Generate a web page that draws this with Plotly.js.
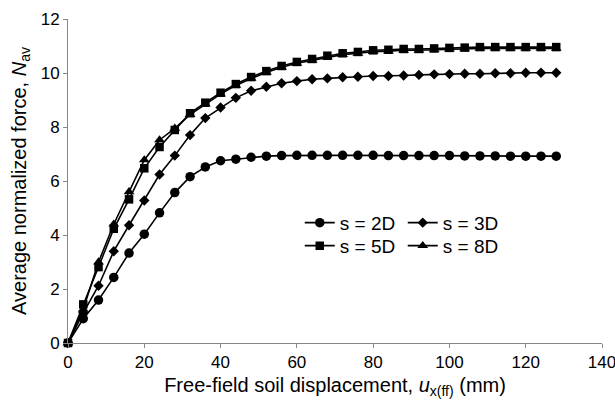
<!DOCTYPE html>
<html>
<head>
<meta charset="utf-8">
<script src="https://cdn.plot.ly/plotly-3.0.1.min.js"></script>
<style>html,body{margin:0;padding:0;background:#fff;}</style>
</head>
<body>
<div id="chart" style="width:615px;height:404px;"></div>
<script>
// Free-field soil displacement (mm)
const displacement = [0,4,8,12,16,20,24,28,32,36,40,44,48,52,56,60,64,68,72,76,80,84,88,92,96,100,104,108,112,116,120,124,128];
const s2D = [0,0.90,1.59,2.43,3.33,4.03,4.82,5.57,6.16,6.52,6.75,6.81,6.88,6.92,6.94,6.95,6.95,6.95,6.95,6.95,6.95,6.94,6.94,6.94,6.94,6.94,6.93,6.93,6.93,6.92,6.92,6.92,6.92];
const s3D = [0,1.12,2.12,3.40,4.36,5.28,6.24,6.94,7.70,8.33,8.72,9.08,9.34,9.49,9.62,9.70,9.77,9.80,9.84,9.86,9.89,9.89,9.91,9.93,9.95,9.96,9.97,9.97,9.99,9.99,10.01,10.01,10.01];
const s5D = [0,1.43,2.81,4.23,5.32,6.47,7.26,7.89,8.51,8.90,9.27,9.59,9.85,10.07,10.26,10.41,10.52,10.64,10.73,10.78,10.84,10.86,10.89,10.89,10.91,10.93,10.94,10.96,10.96,10.96,10.96,10.96,10.96];
const s8D = [0,1.25,3.00,4.40,5.60,6.78,7.52,7.95,8.46,8.85,9.22,9.54,9.80,10.02,10.21,10.36,10.47,10.59,10.68,10.73,10.79,10.81,10.84,10.84,10.86,10.88,10.89,10.91,10.91,10.91,10.91,10.91,10.91];
const seriesNames = ["s = 2D","s = 3D","s = 5D","s = 8D"];
const xTicks = [0,20,40,60,80,100,120,140];
const yTicks = [0,2,4,6,8,10,12];

const FONT = "Liberation Sans, Arial, sans-serif";
function tr(y, name, symbol, size, legend, rank) {
  return {
    x: displacement, y: y, name: name, type: "scatter", mode: "lines+markers",
    line: {color: "#000", width: 1.6},
    marker: {symbol: symbol, size: size, color: "#000"},
    cliponaxis: false, legend: legend, legendrank: rank
  };
}
// 8D drawn before 5D so the squares sit on top where the curves coincide
const data = [
  tr(s2D, seriesNames[0], "circle", 9.5, "legend", 1),
  tr(s3D, seriesNames[1], "diamond", 8, "legend", 2),
  tr(s8D, seriesNames[3], "triangle-up", 9.5, "legend2", 4),
  tr(s5D, seriesNames[2], "square", 8.5, "legend2", 3)
];
const legendBase = {
  orientation: "h", xanchor: "left", yanchor: "middle",
  font: {family: FONT, size: 19, color: "#000"},
  bgcolor: "rgba(0,0,0,0)", itemwidth: 30, traceorder: "normal",
  entrywidth: 58, entrywidthmode: "pixels", tracegroupgap: 0
};
const layout = {
  width: 615, height: 404,
  margin: {l: 68, r: 13, t: 19, b: 61},
  paper_bgcolor: "#fff", plot_bgcolor: "#fff",
  font: {family: FONT, size: 17, color: "#000"},
  showlegend: true,
  legend: Object.assign({}, legendBase, {x: 0.434, y: 0.371}),
  legend2: Object.assign({}, legendBase, {x: 0.434, y: 0.30}),
  xaxis: {
    range: [0, 140], tickmode: "array", tickvals: xTicks,
    showgrid: false, zeroline: false,
    showline: true, linecolor: "#868686", linewidth: 1,
    ticks: "outside", ticklen: 4, tickcolor: "#868686",
    ticklabeloverflow: "allow",
    tickfont: {family: FONT, size: 17, color: "#000"},
    title: {text: "Free-field soil displacement, <i>u</i><sub>x(ff)</sub> (mm)", font: {family: FONT, size: 20, color: "#000"}, standoff: 6}
  },
  yaxis: {
    range: [0, 12], tickmode: "array", tickvals: yTicks,
    showgrid: false, zeroline: false,
    showline: true, linecolor: "#868686", linewidth: 1,
    ticks: "outside", ticklen: 4, tickcolor: "#868686",
    ticklabeloverflow: "allow",
    tickfont: {family: FONT, size: 17, color: "#000"},
    title: {text: "Average normalized force, <i>N</i><sub>av</sub>", font: {family: FONT, size: 20, color: "#000"}, standoff: 8}
  }
};
Plotly.newPlot("chart", data, layout, {displayModeBar: false, staticPlot: true});
</script>
</body>
</html>
